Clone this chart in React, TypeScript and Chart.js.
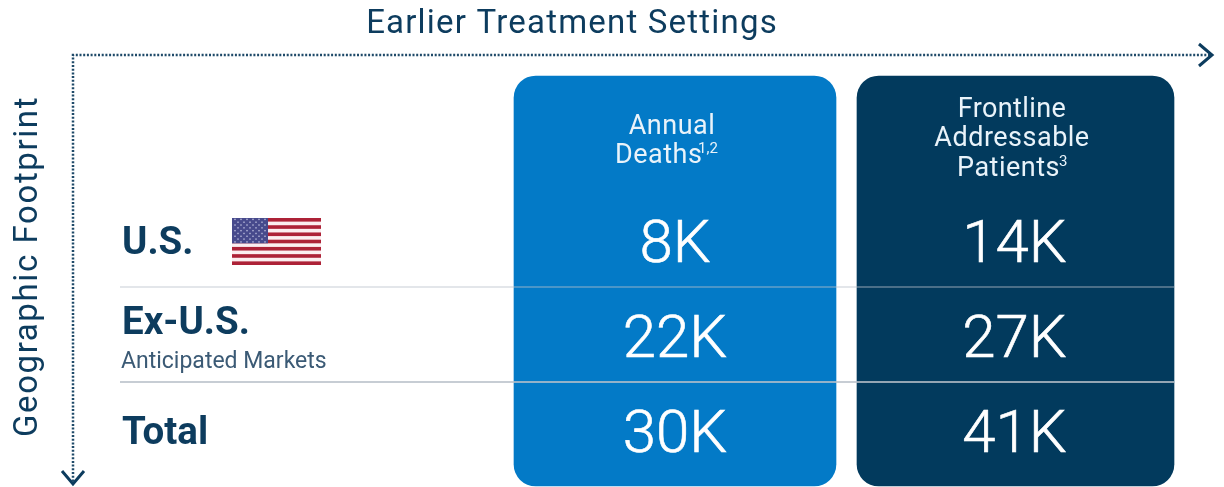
import React, { useEffect, useRef } from "react";
import { Chart, registerables } from "chart.js";

Chart.register(...registerables);

const xAxisTitle = "Earlier Treatment Settings";
const yAxisTitle = "Geographic Footprint";
const columnKeys = ["Annual Deaths", "Frontline Addressable Patients"];
const rowLabels = ["U.S.", "Ex-U.S.", "Total"];
const rowSubLabel = "Anticipated Markets";
const annualDeathsK = [8, 22, 30];
const frontlinePatientsK = [14, 27, 41];

const NAVY = "#0d3c5e";
const BLUE = "#037ac7";
const DARK = "#023a5d";
const FONT = "Roboto, sans-serif";
const COL_TOP = 76;
const COL_BOTTOM = 486;
const valueBaselines = [262, 357, 452];
const rowBaselines = [254, 334, 444];
const dividerYs = [287, 382];

function text(ctx: CanvasRenderingContext2D, s: string, x: number, y: number, font: string, color: string, align: CanvasTextAlign = "left", spacing = "0px", stroke = 0) {
  ctx.font = font;
  ctx.fillStyle = color;
  ctx.textAlign = align;
  ctx.textBaseline = "alphabetic";
  (ctx as any).letterSpacing = spacing;
  ctx.fillText(s, x, y);
  if (stroke > 0) {
    ctx.strokeStyle = color;
    ctx.lineWidth = stroke;
    ctx.strokeText(s, x, y);
  }
  (ctx as any).letterSpacing = "0px";
}

function drawFlag(ctx: CanvasRenderingContext2D) {
  const x0 = 232, y0 = 218, w = 89, h = 47;
  const sh = h / 13;
  ctx.save();
  ctx.filter = "blur(0.6px)";
  ctx.fillStyle = "#fbeef0";
  ctx.fillRect(x0, y0, w, h);
  ctx.fillStyle = "#ad2237";
  for (let i = 0; i < 13; i += 2) ctx.fillRect(x0, y0 + i * sh, w, sh);
  const cw = 36, ch = sh * 7;
  ctx.fillStyle = "#474a8c";
  ctx.fillRect(x0, y0, cw, ch);
  ctx.fillStyle = "#b9bbdc";
  for (let r = 0; r < 9; r++) {
    const n = r % 2 ? 5 : 6;
    for (let c = 0; c < n; c++) {
      const px = x0 + (c + (r % 2 ? 1 : 0.5)) * (cw / 6);
      const py = y0 + (r + 0.5) * (ch / 9);
      ctx.fillRect(px - 0.7, py - 0.7, 1.4, 1.4);
    }
  }
  ctx.restore();
}

const tablePlugin = {
  id: "tableText",
  afterDatasetsDraw(chart: any) {
    const ctx: CanvasRenderingContext2D = chart.ctx;
    const xs = chart.scales.x;
    const c0 = xs.getPixelForValue(0);
    const c1 = xs.getPixelForValue(1) - 1;
    ctx.save();

    // dividers
    ctx.strokeStyle = "rgba(185,193,201,0.8)";
    dividerYs.forEach((y, i) => {
      ctx.lineWidth = i === 0 ? 1.2 : 2;
      ctx.beginPath();
      ctx.moveTo(120, y);
      ctx.lineTo(1174, y);
      ctx.stroke();
    });

    // dotted axes
    ctx.strokeStyle = "#1f4a69";
    ctx.lineWidth = 2.5;
    ctx.lineCap = "butt";
    ctx.setLineDash([2, 1.7]);
    ctx.beginPath();
    ctx.moveTo(1210, 55);
    ctx.lineTo(73, 55);
    ctx.lineTo(73, 482);
    ctx.stroke();
    ctx.setLineDash([]);
    ctx.strokeStyle = NAVY;
    ctx.lineWidth = 3;
    ctx.beginPath();
    ctx.moveTo(1199, 44);
    ctx.lineTo(1212, 55);
    ctx.lineTo(1199, 66);
    ctx.moveTo(62, 471);
    ctx.lineTo(73, 484);
    ctx.lineTo(84, 471);
    ctx.stroke();

    // axis titles
    text(ctx, xAxisTitle, 572, 33, `400 33px ${FONT}`, NAVY, "center", "1.2px");
    ctx.save();
    ctx.translate(37, 266.5);
    ctx.rotate(-Math.PI / 2);
    text(ctx, yAxisTitle, 0, 0, `400 33px ${FONT}`, NAVY, "center", "1.6px");
    ctx.restore();

    // row labels
    rowLabels.forEach((l, i) => {
      text(ctx, l, 122, rowBaselines[i], `700 38.5px ${FONT}`, NAVY);
    });
    text(ctx, rowSubLabel, 121, 368, `400 23px ${FONT}`, "#3b5a75");
    drawFlag(ctx);

    // column headers
    const hf = `400 27px ${FONT}`;
    const white = "#e9f3fa";
    text(ctx, "Annual", 672, 134, hf, white, "center", "0.5px");
    text(ctx, "Deaths", 615, 163, hf, white, "left", "0.5px");
    text(ctx, "1,2", 698, 153, `400 15px ${FONT}`, white);
    text(ctx, "Frontline", 1012, 117, hf, white, "center", "0.4px");
    text(ctx, "Addressable", 1012, 146, hf, white, "center", "0.5px");
    text(ctx, "Patients", 957, 176, hf, white, "left", "0.5px");
    text(ctx, "3", 1059, 166, `400 15px ${FONT}`, white);

    // values
    const vf = `300 60px ${FONT}`;
    annualDeathsK.forEach((v, i) => text(ctx, `${v}K`, c0, valueBaselines[i], vf, "#ffffff", "center", "0px", 0.6));
    frontlinePatientsK.forEach((v, i) => text(ctx, `${v}K`, c1, valueBaselines[i], vf, "#ffffff", "center", "0px", 0.6));
    ctx.restore();
  },
};

export default function App() {
  const ref = useRef<HTMLCanvasElement>(null);
  useEffect(() => {
    document.body.style.margin = "0";
    document.body.style.background = "#ffffff";
    const chart = new Chart(ref.current as HTMLCanvasElement, {
      type: "bar",
      data: {
        labels: columnKeys,
        datasets: [
          {
            label: columnKeys[0],
            data: [[COL_TOP, COL_BOTTOM], null] as any,
            backgroundColor: BLUE,
            barThickness: 322,
            borderRadius: 22,
            borderSkipped: false,
            grouped: false,
          } as any,
          {
            label: columnKeys[1],
            data: [null, [COL_TOP, COL_BOTTOM]] as any,
            backgroundColor: DARK,
            barThickness: 317,
            borderRadius: 22,
            borderSkipped: false,
            grouped: false,
          } as any,
        ],
      },
      options: {
        responsive: false,
        animation: false,
        layout: { padding: { left: 504.75, right: 38.25, top: 0, bottom: 0 } },
        plugins: { legend: { display: false }, tooltip: { enabled: false }, title: { display: false } },
        scales: {
          x: { display: false },
          y: { display: false, min: 0, max: 487, reverse: true },
        },
      },
      plugins: [tablePlugin],
    });
    return () => chart.destroy();
  }, []);
  return <canvas ref={ref} width={1224} height={487} style={{ display: "block" }} />;
}
